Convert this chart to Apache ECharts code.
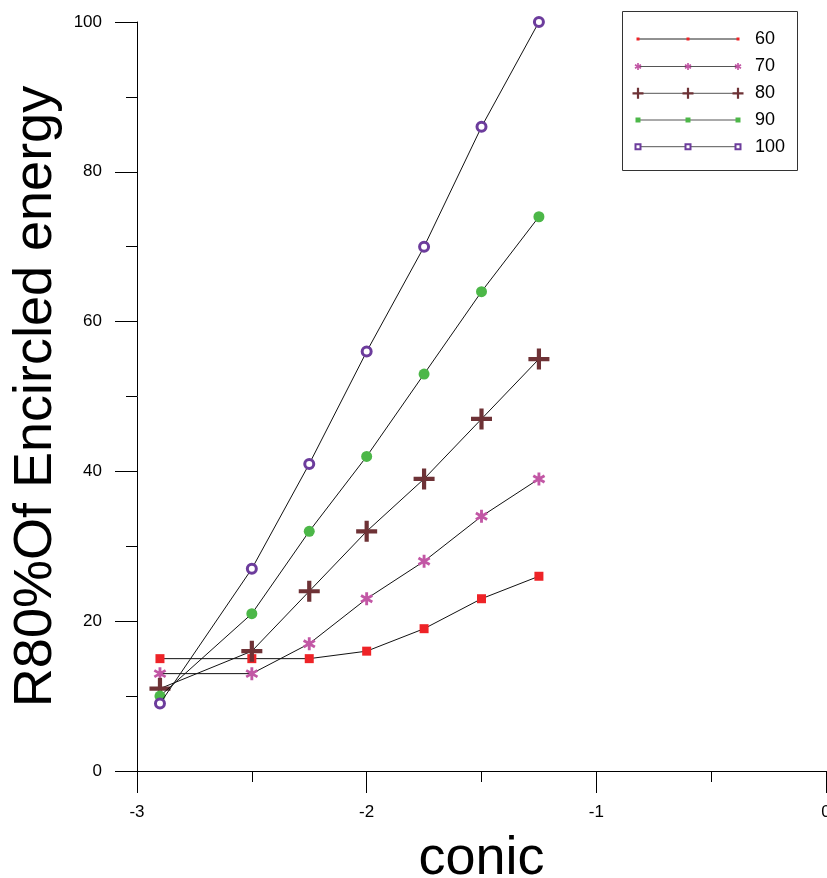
<!DOCTYPE html>
<html>
<head>
<meta charset="utf-8">
<script src="https://cdn.jsdelivr.net/npm/echarts@6/dist/echarts.min.js"></script>
<style>
html,body{margin:0;padding:0;background:#fff;}
#chart{width:827px;height:878px;}
</style>
</head>
<body>
<div id="chart"></div>
<script>
// ---- data ----
const xValues = [-2.9, -2.5, -2.25, -2, -1.75, -1.5, -1.25];
const s60  = [15, 15, 15, 16, 19, 23, 26];
const s70  = [13, 13, 17, 23, 28, 34, 39];
const s80  = [11, 16, 24, 32, 39, 47, 55];
const s90  = [10, 21, 32, 42, 53, 64, 74];
const s100 = [9, 27, 41, 56, 70, 86, 100];
const seriesNames = ['60', '70', '80', '90', '100'];
const xTicks = [-3, -2, -1, 0];
const yTicks = [0, 20, 40, 60, 80, 100];
const xTitle = 'conic';
const yTitle = 'R80%Of Encircled energy';

// ---- styling ----
const FONT = '"Liberation Sans", Arial, Helvetica, sans-serif';
const colors = ['#ee2327', '#c257a5', '#6e3236', '#4cb748', '#6c3c9c'];

function barPoints(cx, cy, len, w, ang) {
  const c = Math.cos(ang), s = Math.sin(ang);
  return [[-w/2,-len/2],[w/2,-len/2],[w/2,len/2],[-w/2,len/2]].map(p => [cx + p[0]*c - p[1]*s, cy + p[0]*s + p[1]*c]);
}
const starAngles = [0, Math.PI/3, 2*Math.PI/3];
function ptsToPath(pts) { return 'M' + pts.map(p => p[0].toFixed(2) + ',' + p[1].toFixed(2)).join('L') + 'Z'; }
const starPathData = starAngles.map(a => ptsToPath(barPoints(50, 50, 100, 22, a))).join(' ');
const plusPts = [[40,0],[60,0],[60,40],[100,40],[100,60],[60,60],[60,100],[40,100],[40,60],[0,60],[0,40],[40,40]];
const plusPathData = ptsToPath(plusPts);

const dataSets = [s60, s70, s80, s90, s100];
const symbolDefs = [
  { symbol: 'rect', size: 9, itemStyle: { color: colors[0] } },
  { symbol: 'path://' + starPathData, size: 13, itemStyle: { color: colors[1] } },
  { symbol: 'path://' + plusPathData, size: 21, itemStyle: { color: colors[2] } },
  { symbol: 'circle', size: 11, itemStyle: { color: colors[3] } },
  { symbol: 'circle', size: 9, itemStyle: { color: '#fff', borderColor: colors[4], borderWidth: 3 } }
];

const series = dataSets.map((vals, i) => ({
  name: seriesNames[i],
  type: 'line',
  data: xValues.map((x, j) => [x, vals[j]]),
  symbol: symbolDefs[i].symbol,
  symbolSize: symbolDefs[i].size,
  symbolKeepAspect: true,
  showAllSymbol: true,
  lineStyle: { color: '#111', width: 1 },
  itemStyle: symbolDefs[i].itemStyle,
  emphasis: { disabled: true },
  z: 2 + i
}));

// ---- custom legend (graphic) ----
const legendRows = [39, 66.5, 93.3, 120, 146.7];
const legendLineX0 = 638, legendLineX1 = 738, legendTextX = 755;
const legendMarkerSize = [3, 7, 11, 5, 5];
const legendLineColor = ['#222', '#555', '#555', '#555', '#555'];
function legendMarker(i, cx, cy) {
  const sz = legendMarkerSize[i];
  if (i === 0 || i === 3) {
    return [{ type: 'rect', shape: { x: cx - sz/2, y: cy - sz/2, width: sz, height: sz }, style: { fill: colors[i] } }];
  }
  if (i === 4) {
    return [{ type: 'rect', shape: { x: cx - sz/2, y: cy - sz/2, width: sz, height: sz }, style: { fill: '#fff', stroke: colors[i], lineWidth: 2 } }];
  }
  if (i === 1) {
    return starAngles.map(a => ({ type: 'polygon', shape: { points: barPoints(cx, cy, sz, sz * 0.24, a) }, style: { fill: colors[i] } }));
  }
  return [{ type: 'polygon', shape: { points: plusPts.map(p => [cx - sz/2 + p[0] * sz / 100, cy - sz/2 + p[1] * sz / 100]) }, style: { fill: colors[i] } }];
}
const graphics = [{
  type: 'rect', shape: { x: 622.5, y: 11.5, width: 175, height: 159 },
  style: { fill: '#fff', stroke: '#333', lineWidth: 1 }, z: 10
}];
seriesNames.forEach((nm, i) => {
  const cy = legendRows[i];
  graphics.push({ type: 'line', shape: { x1: legendLineX0, y1: cy, x2: legendLineX1, y2: cy }, style: { stroke: legendLineColor[i], lineWidth: 1 }, z: 11 });
  [legendLineX0, (legendLineX0 + legendLineX1) / 2, legendLineX1].forEach(cx => {
    legendMarker(i, cx, cy).forEach(m => { m.z = 12; graphics.push(m); });
  });
  graphics.push({ type: 'text', x: legendTextX, y: cy, style: { text: nm, font: '18px ' + FONT, fill: '#000', verticalAlign: 'middle', align: 'left' }, z: 12 });
});

const chart = echarts.init(document.getElementById('chart'), null, { renderer: 'canvas' });
chart.setOption({
  animation: false,
  backgroundColor: '#fff',
  grid: { left: 137, right: 1, top: 22, bottom: 107, containLabel: false, outerBoundsMode: 'none' },
  xAxis: {
    type: 'value', min: xTicks[0], max: xTicks[xTicks.length - 1], interval: 1,
    name: xTitle, nameLocation: 'middle', nameGap: 61,
    nameTextStyle: { fontFamily: FONT, fontSize: 54, color: '#000' },
    axisLine: { show: true, onZero: false, lineStyle: { color: '#000', width: 1 } },
    axisTick: { show: true, inside: false, length: 22, lineStyle: { color: '#000', width: 1 } },
    minorTick: { show: true, splitNumber: 2, length: 11, lineStyle: { color: '#000', width: 1 } },
    axisLabel: { margin: 33, fontFamily: FONT, fontSize: 17, color: '#000' },
    splitLine: { show: false }
  },
  yAxis: {
    type: 'value', min: yTicks[0], max: yTicks[yTicks.length - 1], interval: 20,
    name: yTitle, nameLocation: 'middle', nameGap: 74, nameRotate: 90,
    nameTextStyle: { fontFamily: FONT, fontSize: 54, color: '#000' },
    axisLine: { show: true, onZero: false, lineStyle: { color: '#000', width: 1 } },
    axisTick: { show: true, inside: false, length: 22, lineStyle: { color: '#000', width: 1 } },
    minorTick: { show: true, splitNumber: 2, length: 11, lineStyle: { color: '#000', width: 1 } },
    axisLabel: { margin: 35, fontFamily: FONT, fontSize: 17, color: '#000' },
    splitLine: { show: false }
  },
  series: series,
  graphic: graphics
});
</script>
</body>
</html>
